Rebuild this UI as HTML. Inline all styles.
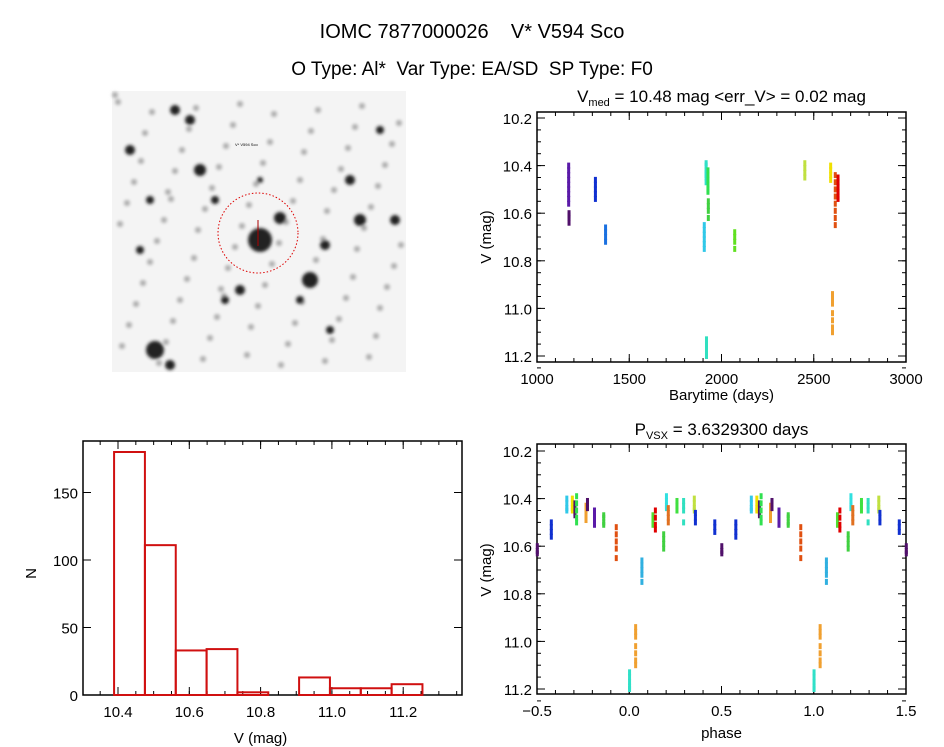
<!DOCTYPE html>
<html><head><meta charset="utf-8"><style>
body{margin:0;background:#fff}
svg{display:block;font-family:"Liberation Sans",sans-serif}
text{fill:#000}
</style></head><body>
<svg id="s" width="944" height="747" viewBox="0 0 944 747">
<defs><filter id="bl"><feGaussianBlur stdDeviation="1.6"/></filter></defs>
<text x="472" y="38" font-size="20" text-anchor="middle">IOMC 7877000026 &#160;&#160; V* V594 Sco</text>
<text x="472" y="75" font-size="19" text-anchor="middle">O Type: Al* &#160;Var Type: EA/SD &#160;SP Type: F0</text>
<g id="img">
<rect x="112" y="91" width="294" height="281" fill="#f4f4f4"/>
</g>
<g id="g1"></g>
<g id="g2"></g>
<g id="g3"></g>
</svg>
<script>
const NS='http://www.w3.org/2000/svg';
function mk(p,t,a){const e=document.createElementNS(NS,t);for(const k in a)e.setAttribute(k,a[k]);p.appendChild(e);return e;}
// ---- sky image stars (decorative)
const starX=[155,170,260,280,360,130,200,325,395,310,190,140,300,350,380,240,225,150,175,330,215,260];
const starY=[350,365,240,218,220,150,170,245,220,280,120,250,300,180,130,290,300,200,110,330,200,180];
const starR=[9,5,12,6,6,5,6,5,5,8,5,4,4,5,4,5,4,4,5,4,4,3];
const img=document.getElementById('img');
const sg=mk(img,'g',{filter:'url(#bl)'});
for(let i=0;i<90;i++){const c=mk(sg,'circle',{cx:115+(i*53)%288,cy:95+(i*97)%272,r:3,fill:'#aaa'});}
for(let i=0;i<starX.length;i++){const c=mk(sg,'circle',{cx:starX[i],cy:starY[i],r:starR[i],fill:'#222'});}
mk(img,'circle',{cx:258,cy:233,r:40,fill:'none',stroke:'#d00','stroke-width':1,'stroke-dasharray':'1.5 2'});
mk(img,'line',{x1:258,y1:220,x2:258,y2:246,stroke:'#a00'});
mk(img,'text',{x:235,y:146,'font-size':4,fill:'#d00'}).textContent='V* V594 Sco';

// ---- light curve data
const lcT=[1170,1172,1315,1370,1905,1915,1925,1927,1917,2070,2450,2590,2600,2615,2630];
const lcMag=[
[10.40,10.42,10.44,10.46,10.48,10.50,10.52,10.54,10.56],
[10.60,10.61,10.62,10.64],
[10.46,10.48,10.50,10.52,10.54],
[10.66,10.68,10.70,10.72],
[10.65,10.67,10.69,10.71,10.73,10.75],
[10.39,10.40,10.42,10.43,10.44,10.45,10.47],
[10.42,10.44,10.46,10.48,10.50,10.51],
[10.55,10.57,10.59,10.62],
[11.13,11.15,11.17,11.19,11.20],
[10.68,10.70,10.72,10.75],
[10.39,10.41,10.43,10.45],
[10.40,10.42,10.44,10.46],
[10.94,10.96,10.98,11.02,11.05,11.08,11.10],
[10.44,10.47,10.50,10.53,10.56,10.59,10.62,10.65],
[10.45,10.47,10.49,10.51,10.53,10.54]];
const lcCol=['#5a1aa8','#50106a','#1030d0','#1a70e0','#30c8e8','#30e0c8','#30e050','#40d040','#30e0c0','#60e020','#c0e040','#f0e000','#f0a030','#e05010','#e00000'];

// ---- phase data
const phP=[0.576,0.66,0.69,0.704,0.713,0.764,0.772,0.81,0.86,0.928,0.0,0.033,0.067,0.127,0.14,0.185,0.2,0.21,0.257,0.293,0.351,0.357,0.462,0.5];
const phMag=[
[10.50,10.52,10.54,10.56],[10.40,10.42,10.44,10.45],[10.40,10.42,10.44,10.45],[10.42,10.44,10.46,10.47],
[10.39,10.42,10.45,10.48,10.50],[10.43,10.45,10.47,10.49],[10.41,10.42,10.44],[10.45,10.47,10.49,10.51],
[10.47,10.48,10.50,10.51],[10.52,10.55,10.58,10.61,10.65],[11.13,11.15,11.17,11.19,11.20],
[10.94,10.96,10.98,11.02,11.05,11.08,11.10],[10.66,10.68,10.70,10.72,10.75],[10.47,10.48,10.50,10.51],
[10.45,10.48,10.51,10.53],[10.55,10.57,10.59,10.61],[10.39,10.41,10.43,10.44],[10.44,10.46,10.48,10.50],
[10.41,10.43,10.45],[10.41,10.43,10.45,10.50],[10.40,10.42,10.44,10.45],[10.46,10.48,10.50],
[10.50,10.52,10.54],[10.60,10.62,10.63]];
const phCol=['#1030d0','#30c8e8','#f0e000','#50106a','#30e050','#f0a030','#50106a','#5a1aa8','#40d040','#e05010','#30e0c8','#f0a030','#30b0e0','#50e030','#e00000','#40d040','#30e0e0','#e07020','#40e040','#30e0c0','#c0e040','#1030d0','#1030d0','#50106a'];

// ---- histogram data
const hEdge0=10.389, hBin=0.0865;
const hCounts=[180,111,33,34,2,0,13,5,5,8];
const hYTicks=[0,50,100,150], hXTicks=[10.4,10.6,10.8,11.0,11.2];
const magTicks=[10.2,10.4,10.6,10.8,11.0,11.2];
const dayTicks=[1000,1500,2000,2500,3000];
const phTicks=[-0.5,0.0,0.5,1.0,1.5];

function axesBox(g,x0,x1,y0,y1){mk(g,'rect',{x:x0,y:y0,width:x1-x0,height:y1-y0,fill:'none',stroke:'#000','stroke-width':1.5});}
function ticksX(g,vals,fx,y0,y1,lab,fmt,minor){
 vals.forEach(v=>{const x=fx(v);mk(g,'line',{x1:x,x2:x,y1:y1,y2:y1-8,stroke:'#000'});mk(g,'line',{x1:x,x2:x,y1:y0,y2:y0+8,stroke:'#000'});
  const t=mk(g,'text',{x:x,y:y1+22,'font-size':15,'text-anchor':'middle'});t.textContent=fmt(v);});
 minor.forEach(v=>{const x=fx(v);mk(g,'line',{x1:x,x2:x,y1:y1,y2:y1-4,stroke:'#000'});mk(g,'line',{x1:x,x2:x,y1:y0,y2:y0+4,stroke:'#000'});});
}
function ticksY(g,vals,fy,x0,x1,fmt,minor){
 vals.forEach(v=>{const y=fy(v);mk(g,'line',{x1:x0,x2:x0+8,y1:y,y2:y,stroke:'#000'});mk(g,'line',{x1:x1,x2:x1-8,y1:y,y2:y,stroke:'#000'});
  const t=mk(g,'text',{x:x0-5,y:y+6,'font-size':15,'text-anchor':'end'});t.textContent=fmt(v);});
 minor.forEach(v=>{const y=fy(v);mk(g,'line',{x1:x0,x2:x0+4,y1:y,y2:y,stroke:'#000'});mk(g,'line',{x1:x1,x2:x1-4,y1:y,y2:y,stroke:'#000'});});
}
function label(g,txt,x,y,rot,name,fs){const t=mk(g,'text',{x:x,y:y,'font-size':fs||15,'text-anchor':'middle'});if(rot)t.setAttribute('transform','rotate(-90 '+x+' '+y+')');t.innerHTML=txt;return t;}
const magMinor=[];for(let m=10.2;m<11.26;m+=0.05)magMinor.push(m);

// ---- light curve plot
(function(){
 const g=document.getElementById('g1');const X0=537,X1=906,Y0=112,Y1=362;
 const fx=t=>X0+(t-1000)/2000*(X1-X0), fy=m=>118+(m-10.2)*238;
 axesBox(g,X0,X1,Y0,Y1);
 const mn=[];for(let d=1000;d<=3000;d+=100)mn.push(d);
 ticksX(g,dayTicks,fx,Y0,Y1,'',v=>String(v),mn);
 ticksY(g,magTicks,fy,X0,X1,v=>v.toFixed(1),magMinor);
 label(g,'Barytime (days)',fx(2000),400,false,'x-axis-title');
 label(g,'V (mag)',491,fy(10.7),true,'y-axis-title');
 label(g,'V<tspan font-size="11" dy="4">med</tspan><tspan dy="-4"> = 10.48 mag &lt;err_V&gt; = 0.02 mag</tspan>',fx(2000),102,false,'plot-title',17);
 lcT.forEach((t,i)=>lcMag[i].forEach(m=>{const r=mk(g,'rect',{x:fx(t)-1.2,y:fy(m)-3,width:3,height:6,fill:lcCol[i]});}));
})();
// ---- phase plot
(function(){
 const g=document.getElementById('g2');const X0=537,X1=906,Y0=444,Y1=694;
 const fx=p=>X0+(p+0.5)/2*(X1-X0), fy=m=>451+(m-10.2)*238;
 axesBox(g,X0,X1,Y0,Y1);
 const mn=[];for(let p=-0.5;p<=1.501;p+=0.1)mn.push(p);
 ticksX(g,phTicks,fx,Y0,Y1,'',v=>v.toFixed(1).replace('-','\u2212'),mn);
 ticksY(g,magTicks,fy,X0,X1,v=>v.toFixed(1),magMinor);
 label(g,'phase',fx(0.5),738,false,'x-axis-title');
 label(g,'V (mag)',491,fy(10.7),true,'y-axis-title');
 label(g,'P<tspan font-size="11" dy="4">VSX</tspan><tspan dy="-4"> = 3.6329300 days</tspan>',fx(0.5),435,false,'plot-title',17);
 phP.forEach((p,i)=>[-1,0,1].forEach(o=>{const q=p+o;if(q<-0.505||q>1.505)return;
  phMag[i].forEach(m=>{const r=mk(g,'rect',{x:fx(q)-1.2,y:fy(m)-3,width:3,height:6,fill:phCol[i]});});}));
})();
// ---- histogram
(function(){
 const g=document.getElementById('g3');const X0=83,X1=462,Y0=441,Y1=695;
 const fx=v=>118+(v-10.4)/0.2*71.3, fy=n=>Y1-n*1.35;
 axesBox(g,X0,X1,Y0,Y1);
 const mn=[];for(let v=10.35;v<11.36;v+=0.05)mn.push(v);
 ticksX(g,hXTicks,fx,Y0,Y1,'',v=>v.toFixed(1),mn);
 ticksY(g,hYTicks,fy,X0,X1,v=>String(v),[]);
 label(g,'V (mag)',fx(10.8),743,false,'x-axis-title');
 label(g,'N',36,fy(90),true,'y-axis-title');
 hCounts.forEach((c,i)=>{const a=fx(hEdge0+i*hBin),b=fx(hEdge0+(i+1)*hBin);
  const r=mk(g,'rect',{x:a,y:fy(c),width:b-a,height:Y1-fy(c),fill:'none',stroke:'#d01010','stroke-width':2});
  });
})();
</script>
</body></html>
